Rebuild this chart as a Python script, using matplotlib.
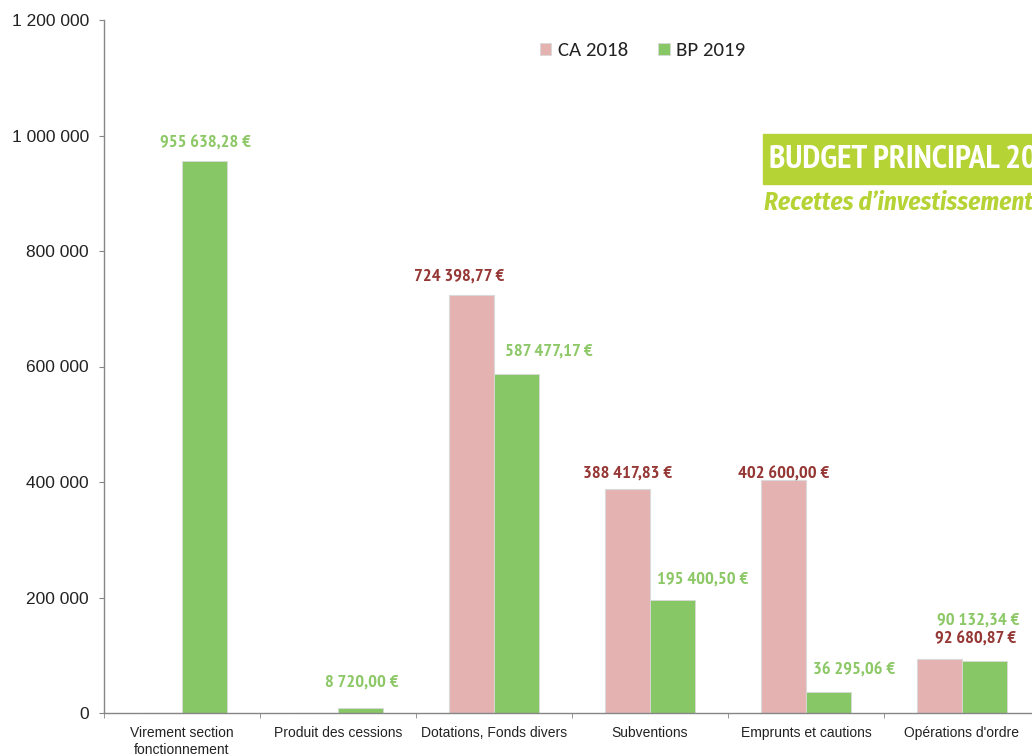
import matplotlib
matplotlib.use("Agg")
import matplotlib.pyplot as plt
from matplotlib import font_manager as fm
from matplotlib.font_manager import FontProperties
from matplotlib.patches import Patch
import numpy as np

categories = ["Virement section\nfonctionnement", "Produit des cessions", "Dotations, Fonds divers",
              "Subventions", "Emprunts et cautions", "Opérations d'ordre"]
ca2018 = [0, 0, 724398.77, 388417.83, 402600.00, 92680.87]
bp2019 = [955638.28, 8720.00, 587477.17, 195400.50, 36295.06, 90132.34]
ca_labels = [None, None, "724 398,77 €", "388 417,83 €", "402 600,00 €", "92 680,87 €"]
bp_labels = ["955 638,28 €", "8 720,00 €", "587 477,17 €", "195 400,50 €", "36 295,06 €", "90 132,34 €"]
yticks = [0, 200000, 400000, 600000, 800000, 1000000, 1200000]
ytick_labels = ["0", "200 000", "400 000", "600 000", "800 000", "1 000 000", "1 200 000"]
series_names = ["CA 2018", "BP 2019"]
title = "BUDGET PRINCIPAL 2019"
subtitle = "Recettes d\u2019investissement"


def pick(cands, weight, style="normal", size=12):
    for name in cands:
        fl = [f for f in fm.fontManager.ttflist if f.name == name and f.style == style]
        if not fl:
            continue
        best = min(fl, key=lambda f: abs(int(f.weight) - weight) if str(f.weight).isdigit() else 999)
        w = int(best.weight) if str(best.weight).isdigit() else 400
        if abs(w - weight) <= 150:
            return FontProperties(fname=best.fname, size=size)
    return FontProperties(family="Liberation Sans", weight=weight, style=style, size=size)


fp_label = pick(["Arial Narrow", "Liberation Sans Narrow", "PT Sans Narrow", "Roboto Condensed",
                 "Barlow Semi Condensed", "Asap Condensed"], 700, size=13.3)
fp_title = pick(["Myriad Pro", "PT Sans Narrow", "Fira Sans Condensed", "Barlow Semi Condensed"], 700, size=24)
fp_sub = pick(["Fira Sans Condensed", "Barlow Semi Condensed", "Asap Condensed"], 700, "italic", size=18)
fp_leg = pick(["Carlito", "Calibri", "Lato"], 400, size=15)
fp_tick = pick(["Arimo", "Liberation Sans"], 400, size=12.5)
fp_cat = pick(["Arimo", "Liberation Sans"], 400, size=10)

PINK = "#E4B2B1"
GREEN = "#88C765"
DARKRED = "#953735"
LGREEN = "#8DC867"
BANNER = "#B5D334"
AXC = "#868686"
TXT = "#222222"

W, H = 1032, 756
fig = plt.figure(figsize=(W / 100, H / 100), dpi=100)
ax = fig.add_axes([104 / W, 1 - 713 / H, 936 / W, 693 / H])

x = np.arange(len(categories))
w = 0.29
ax.bar(x - w / 2, ca2018, w, color=PINK, edgecolor="#D9D9D9", linewidth=0.8)
ax.bar(x + w / 2, bp2019, w, color=GREEN, edgecolor="#D9D9D9", linewidth=0.6)

ax.set_xlim(-0.5, len(categories) - 0.5)
ax.set_ylim(0, 1200000)
ax.set_yticks(yticks)
ax.set_yticklabels(ytick_labels, fontproperties=fp_tick, color=TXT)
ax.set_xticks(x)
ax.set_xticklabels(categories, fontproperties=fp_cat, color=TXT, linespacing=1.25)
ax.set_xticks(np.arange(len(categories) + 1) - 0.5, minor=True)
ax.tick_params(axis="x", which="major", length=0, pad=9.5)
ax.tick_params(axis="x", which="minor", length=3.6, color=AXC, direction="out")
ax.tick_params(axis="y", length=3.6, color=AXC, direction="out", pad=7.2)
for s in ["top", "right"]:
    ax.spines[s].set_visible(False)
for s in ["left", "bottom"]:
    ax.spines[s].set_color(AXC)
    ax.spines[s].set_linewidth(1.0)

# label offsets in pixels: (dx from bar centre, height of text centre above bar top)
ca_off = [None, None, (-12.5, 20.5), (0.5, 18), (0.5, 9), (36, 23)]
bp_off = [(1, 20), (1.5, 28.5), (32, 25), (30.5, 23.5), (25, 24), (-6.5, 43)]
half_cap = 6.8
for i in range(len(categories)):
    if ca_labels[i]:
        dx, dy = ca_off[i]
        ax.annotate(ca_labels[i], (x[i] - w / 2, ca2018[i]), xytext=(dx, dy - half_cap),
                    textcoords="offset pixels", ha="center", va="baseline",
                    fontproperties=fp_label, color=DARKRED, annotation_clip=False)
    dx, dy = bp_off[i]
    ax.annotate(bp_labels[i], (x[i] + w / 2, bp2019[i]), xytext=(dx, dy - half_cap),
                textcoords="offset pixels", ha="center", va="baseline",
                fontproperties=fp_label, color=LGREEN, annotation_clip=False)

handles = [Patch(facecolor=PINK, edgecolor="#D9D9D9", linewidth=0.6),
           Patch(facecolor=GREEN, edgecolor="#D9D9D9", linewidth=0.6)]
leg = fig.legend(handles, series_names, loc="center left", bbox_to_anchor=(540 / W, 1 - 51 / H),
                 ncol=2, frameon=False, prop=fp_leg, handlelength=0.55, handleheight=0.55,
                 handletextpad=0.3, columnspacing=1.45, borderpad=0, borderaxespad=0)
for t in leg.get_texts():
    t.set_color(TXT)

# title banner
fig.patches.append(plt.Rectangle((763 / W, 1 - 184 / H), 400 / W, 50 / H, transform=fig.transFigure,
                                 color=BANNER, zorder=5))
fig.text(769 / W, 1 - 168 / H, title, color="white", fontproperties=fp_title,
         va="baseline", ha="left", zorder=6)
fig.text(764 / W, 1 - 210 / H, subtitle, color=BANNER, fontproperties=fp_sub,
         va="baseline", ha="left", zorder=6)

fig.savefig("out.png", dpi=100)
